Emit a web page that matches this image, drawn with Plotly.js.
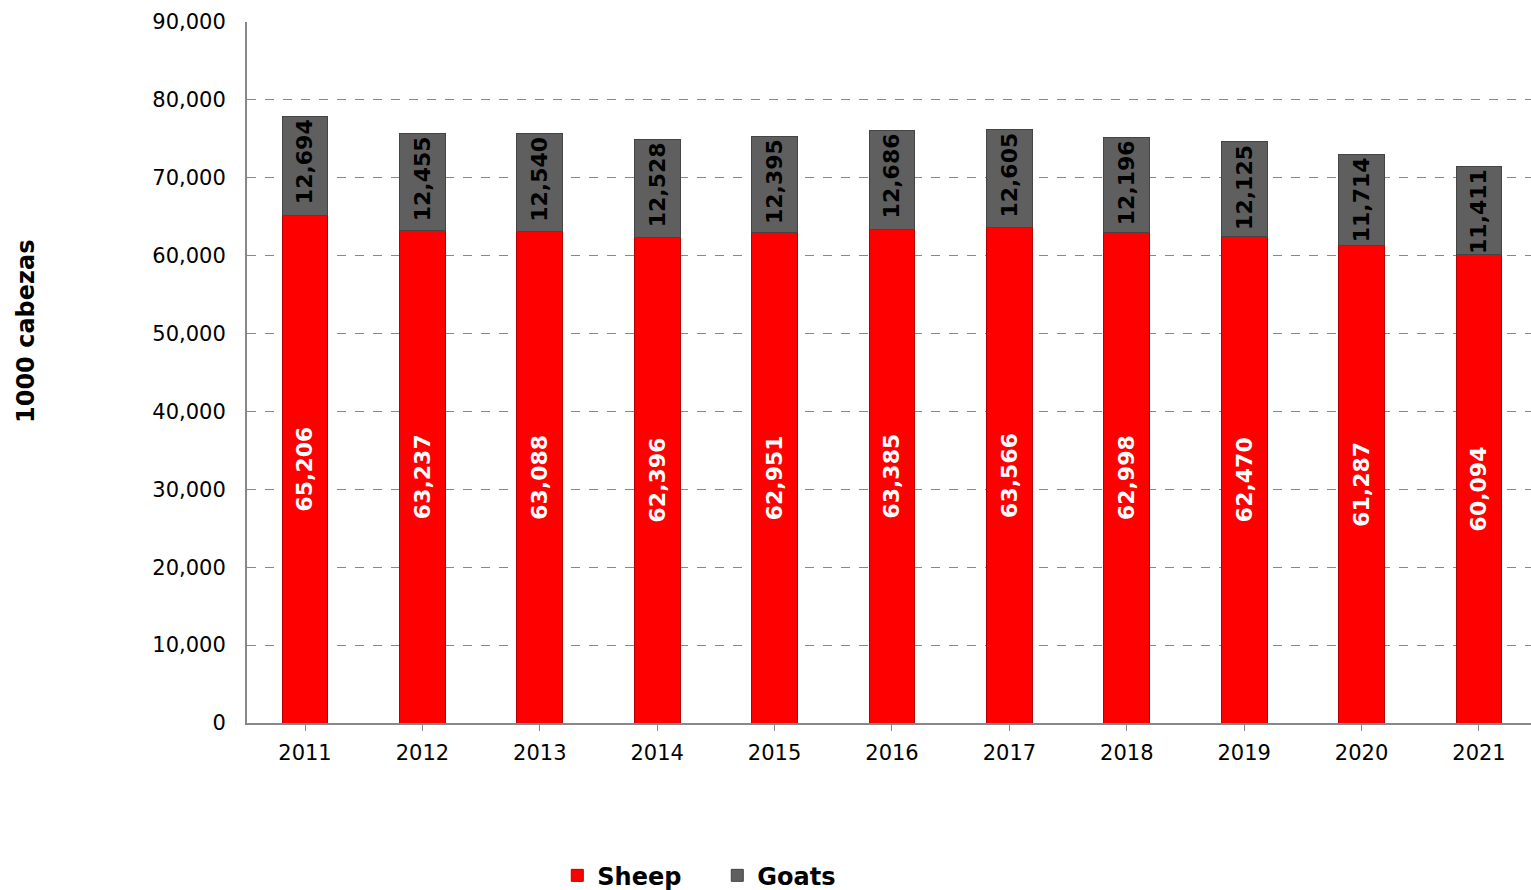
<!DOCTYPE html>
<html>
<head>
<meta charset="utf-8">
<script src="https://cdn.plot.ly/plotly-3.0.1.min.js"></script>
<style>html,body{margin:0;padding:0;background:#fff;}#chart{width:1531px;height:890px;}</style>
</head>
<body>
<div id="chart"></div>
<script>
const years = ["2011","2012","2013","2014","2015","2016","2017","2018","2019","2020","2021"];
const sheep = [65206, 63237, 63088, 62396, 62951, 63385, 63566, 62998, 62470, 61287, 60094];
const goats = [12694, 12455, 12540, 12528, 12395, 12686, 12605, 12196, 12125, 11714, 11411];
const seriesNames = ["Sheep", "Goats"];
const yTitle = "1000 cabezas";

const FONT = "Verdana, 'DejaVu Sans', sans-serif";
const fmt = v => v.toLocaleString('en-US');

const traces = [
  {
    type: 'bar', name: seriesNames[0], x: years, y: sheep,
    width: 0.39,
    marker: {color: '#ff0000', line: {color: '#b30000', width: 1}},
    text: sheep.map(fmt), textposition: 'inside', insidetextanchor: 'middle',
    textangle: -90, constraintext: 'none',
    textfont: {family: FONT, size: 22, color: '#ffffff', weight: 'bold'},
    hoverinfo: 'skip'
  },
  {
    type: 'bar', name: seriesNames[1], x: years, y: goats,
    width: 0.39,
    marker: {color: '#5f5f5f', line: {color: '#444444', width: 1}},
    text: goats.map(fmt), textposition: 'inside', insidetextanchor: 'end',
    textangle: -90, constraintext: 'none',
    textfont: {family: FONT, size: 22, color: '#000000', weight: 'bold'},
    hoverinfo: 'skip'
  }
];

const layout = {
  width: 1531, height: 890,
  margin: {l: 247, r: 0, t: 22, b: 167, pad: 0, autoexpand: false},
  paper_bgcolor: '#ffffff', plot_bgcolor: '#ffffff',
  barmode: 'stack',
  font: {family: FONT, size: 21, color: '#000'},
  showlegend: true,
  legend: {
    orientation: 'h', xref: 'container', x: 0.364, xanchor: 'left',
    yref: 'container', y: 0.016, yanchor: 'middle',
    font: {family: FONT, size: 24, color: '#000', weight: 'bold'},
    itemwidth: 30, entrywidth: 115, traceorder: 'normal'
  },
  xaxis: {
    type: 'category', range: [-0.494, 10.443],
    showline: true, linecolor: '#888', linewidth: 2,
    ticks: 'outside', ticklen: 6, tickcolor: '#888',
    ticklabelstandoff: 4,
    tickfont: {family: FONT, size: 21, color: '#000'},
    showgrid: false, zeroline: false, fixedrange: true
  },
  yaxis: {
    range: [0, 90000], dtick: 10000, tickformat: ',d',
    showline: true, linecolor: '#888', linewidth: 2,
    ticks: '', ticklabelstandoff: 15,
    tickfont: {family: FONT, size: 21, color: '#000'},
    showgrid: true, gridcolor: '#888', griddash: 'dash', gridwidth: 1,
    zeroline: false, fixedrange: true
  },
  annotations: [{
    text: yTitle, textangle: -90, showarrow: false,
    xref: 'paper', yref: 'paper',
    x: (26 - 247) / 1284, xanchor: 'center',
    y: (723 - 332) / 701, yanchor: 'middle',
    font: {family: FONT, size: 24, color: '#000', weight: 'bold'}
  }]
};

Plotly.newPlot('chart', traces, layout, {displayModeBar: false, staticPlot: true});
</script>
</body>
</html>
